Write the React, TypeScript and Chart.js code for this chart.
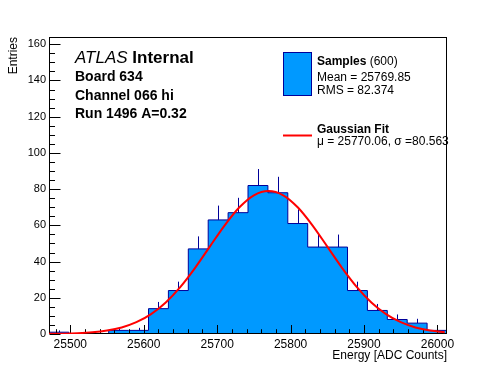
import React, { useEffect, useRef } from 'react';
import { Chart, registerables } from 'chart.js';

Chart.register(...registerables);

const FONT = '"Liberation Sans", Arial, Helvetica, sans-serif';

// Histogram range and contents (20 bins)
const histMin = 25471;
const histMax = 26013;
const binCounts = [1, 0, 0, 2, 2, 14, 24, 47, 63, 67, 82, 78, 61, 48, 48, 24, 13, 8, 6, 2];
const binErrors = [1, 0, 0, 1.4, 1.4, 3.7, 4.9, 6.9, 7.9, 8.2, 9.1, 8.8, 7.8, 6.9, 6.9, 4.9, 3.6, 2.8, 2.4, 1.4];

// Gaussian fit curve
const fitX = [25470, 25490, 25510, 25530, 25550, 25570, 25590, 25610, 25630, 25650, 25670, 25690, 25710, 25730,
  25750, 25770, 25790, 25810, 25830, 25850, 25870, 25890, 25910, 25930, 25950, 25970, 25990, 26010];
const fitY = [0.08, 0.19, 0.43, 0.93, 1.9, 3.62, 6.51, 11.0, 17.45, 26.05, 36.56, 48.25, 59.87, 69.84,
  76.6, 79.0, 76.6, 69.84, 59.87, 48.25, 36.56, 26.05, 17.45, 11.0, 6.51, 3.62, 1.9, 0.93];

const xTickValues = [25500, 25600, 25700, 25800, 25900, 26000];
const yTickValues = [0, 20, 40, 60, 80, 100, 120, 140, 160];
const yMax = 164;

const xTitle = 'Energy [ADC Counts]';
const yTitle = 'Entries';
const headerBrand = 'ATLAS';
const headerTag = 'Internal';
const headerLines = ['Board 634', 'Channel 066 hi', 'Run 1496 A=0.32'];
const legendSamplesName = 'Samples';
const legendSamplesCount = '(600)';
const legendSamplesStats = ['Mean = 25769.85', 'RMS = 82.374'];
const legendFitName = 'Gaussian Fit';
const legendFitStats = 'μ = 25770.06, σ =80.563';

const FILL = '#0099ff';
const EDGE = '#000099';

export default function App() {
  const ref = useRef<HTMLCanvasElement | null>(null);

  useEffect(() => {
    if (!ref.current) return;
    const nBins = binCounts.length;
    const binWidth = (histMax - histMin) / nBins;
    const edges = Array.from({ length: nBins + 1 }, (_, i) => histMin + i * binWidth);
    const histPoints = [{ x: edges[0], y: 0 }, ...binCounts.map((c, i) => ({ x: edges[i], y: c })), { x: edges[nBins], y: 0 }];
    const fitPoints = fitX.map((x, i) => ({ x, y: fitY[i] }));

    const framePlugin = {
      id: 'rootFrame',
      afterDatasetDraw(chart: any, args: any) {
        if (args.index !== 1) return;
        const { ctx, chartArea } = chart;
        const xs = chart.scales.x;
        const ys = chart.scales.y;
        ctx.save();
        // error bars
        ctx.beginPath();
        ctx.rect(chartArea.left, chartArea.top, chartArea.right - chartArea.left, chartArea.bottom - chartArea.top);
        ctx.clip();
        ctx.strokeStyle = EDGE;
        ctx.lineWidth = 1;
        binCounts.forEach((c, i) => {
          if (c <= 0) return;
          const cx = Math.round(xs.getPixelForValue((edges[i] + edges[i + 1]) / 2)) + 0.5;
          ctx.beginPath();
          ctx.moveTo(cx, ys.getPixelForValue(c));
          ctx.lineTo(cx, ys.getPixelForValue(c + binErrors[i]));
          ctx.stroke();
        });
        ctx.restore();

        ctx.save();
        ctx.strokeStyle = '#000';
        ctx.lineWidth = 1;
        const L = chartArea.left + 0.5, R = chartArea.right - 0.5, T = chartArea.top + 0.5, B = chartArea.bottom - 0.5;
        ctx.strokeRect(L, T, R - L, B - T);
        ctx.beginPath();
        // x ticks
        for (let v = 25480; v <= histMax; v += 20) {
          const px = Math.round(xs.getPixelForValue(v)) + 0.5;
          const major = v % 100 === 0;
          ctx.moveTo(px, B);
          ctx.lineTo(px, B - (major ? 8.5 : 4.3));
        }
        // y ticks
        for (let v = 0; v <= yMax; v += 5) {
          const py = Math.round(ys.getPixelForValue(v)) + 0.5;
          const major = v % 20 === 0;
          ctx.moveTo(L, py);
          ctx.lineTo(L + (major ? 11 : 5.5), py);
        }
        ctx.stroke();
        ctx.restore();
      },
      afterDraw(chart: any) {
        const { ctx } = chart;
        ctx.save();
        ctx.fillStyle = '#000';
        ctx.textBaseline = 'alphabetic';
        ctx.textAlign = 'left';
        // header
        ctx.font = `italic 17px ${FONT}`;
        ctx.fillText(headerBrand, 75, 63);
        const w1 = ctx.measureText(headerBrand + ' ').width;
        ctx.font = `bold 17px ${FONT}`;
        ctx.fillText(headerTag, 75 + w1, 63);
        ctx.font = `bold 14px ${FONT}`;
        const hy = [81, 99.5, 118];
        headerLines.forEach((t, i) => ctx.fillText(t, 75, hy[i]));

        // legend: samples
        ctx.fillStyle = FILL;
        ctx.fillRect(283.5, 52.5, 28, 43);
        ctx.strokeStyle = EDGE;
        ctx.lineWidth = 1;
        ctx.strokeRect(283.5, 52.5, 28, 43);
        ctx.fillStyle = '#000';
        ctx.font = `bold 12px ${FONT}`;
        ctx.fillText(legendSamplesName, 317, 65);
        const w2 = ctx.measureText(legendSamplesName + ' ').width;
        ctx.font = `12px ${FONT}`;
        ctx.fillText(legendSamplesCount, 317 + w2, 65);
        ctx.fillText(legendSamplesStats[0], 317, 80.5);
        ctx.fillText(legendSamplesStats[1], 317, 94);
        // legend: fit
        ctx.strokeStyle = '#ff0000';
        ctx.lineWidth = 2;
        ctx.beginPath();
        ctx.moveTo(283, 135.5);
        ctx.lineTo(312, 135.5);
        ctx.stroke();
        ctx.font = `bold 12px ${FONT}`;
        ctx.fillText(legendFitName, 317, 132.5);
        ctx.font = `12px ${FONT}`;
        ctx.fillText(legendFitStats, 317, 144.5);
        ctx.restore();
      },
    };

    const chart = new Chart(ref.current, {
      type: 'line',
      data: {
        datasets: [
          {
            label: 'Gaussian Fit',
            data: fitPoints,
            borderColor: '#ff0000',
            borderWidth: 2,
            pointRadius: 0,
            fill: false,
            cubicInterpolationMode: 'monotone',
          },
          {
            label: 'Samples',
            data: histPoints,
            stepped: true,
            fill: 'origin',
            backgroundColor: FILL,
            borderColor: EDGE,
            borderWidth: 1,
            pointRadius: 0,
          },
        ],
      },
      options: {
        responsive: false,
        animation: false,
        events: [],
        layout: { padding: { top: 37, right: 49, left: 0, bottom: 0 } },
        plugins: { legend: { display: false }, tooltip: { enabled: false }, title: { display: false } },
        scales: {
          x: {
            type: 'linear',
            min: histMin,
            max: histMax,
            grid: { display: false, drawTicks: false },
            border: { display: false },
            afterBuildTicks: (s: any) => { s.ticks = xTickValues.map((v) => ({ value: v })); },
            afterFit: (s: any) => { s.height = 38; },
            ticks: { autoSkip: false, maxRotation: 0, padding: 3, color: '#000', font: { family: FONT, size: 12 }, callback: (v: any) => String(v) },
            title: { display: true, text: xTitle, align: 'end', color: '#000', font: { family: FONT, size: 12 }, padding: { top: 0, bottom: 9 } },
          },
          y: {
            type: 'linear',
            min: 0,
            max: yMax,
            grid: { display: false, drawTicks: false },
            border: { display: false },
            afterBuildTicks: (s: any) => { s.ticks = yTickValues.map((v) => ({ value: v })); },
            afterFit: (s: any) => { s.width = 49; },
            ticks: { autoSkip: false, padding: 3, color: '#000', font: { family: FONT, size: 11 }, callback: (v: any) => String(v) },
            title: { display: true, text: yTitle, align: 'end', color: '#000', font: { family: FONT, size: 12 }, padding: { top: 6, bottom: 0 } },
          },
        },
      },
      plugins: [framePlugin],
    } as any);
    return () => chart.destroy();
  }, []);

  return (
    <div style={{ position: 'fixed', left: 0, top: 0, width: 496, height: 372, background: '#fff' }}>
      <canvas ref={ref} width={496} height={372} style={{ display: 'block', width: 496, height: 372 }} />
    </div>
  );
}
